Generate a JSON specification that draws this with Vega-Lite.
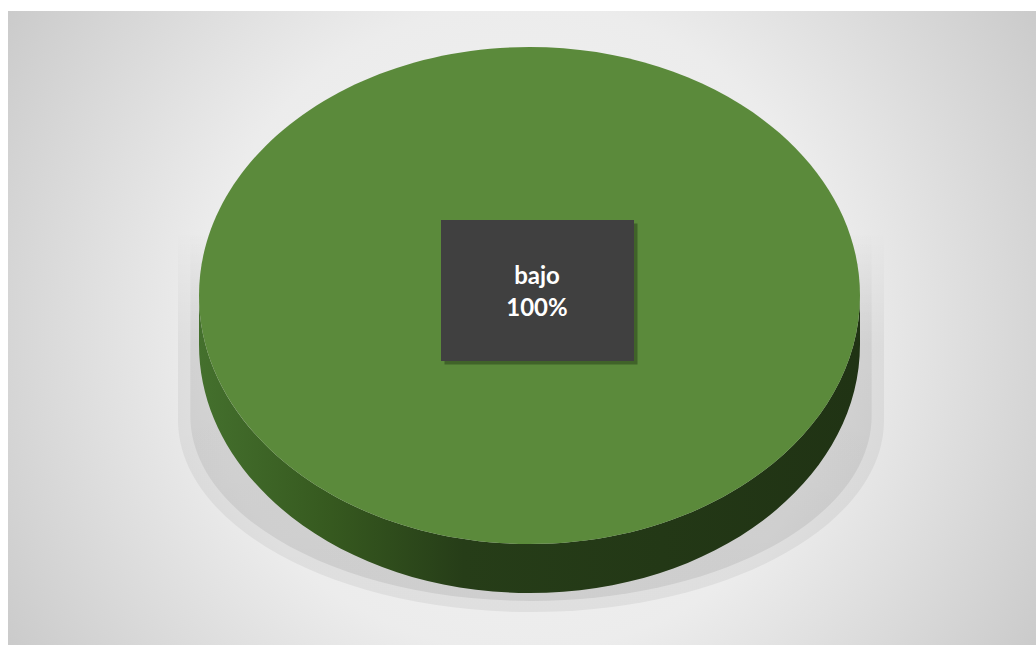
{
  "$schema": "https://vega.github.io/schema/vega-lite/v6.json",
  "autosize": {"type": "fit", "contains": "padding"},
  "width": 1036,
  "height": 645,
  "padding": {"left": 8, "top": 11, "right": 0, "bottom": 0},
  "background": "#ffffff",
  "config": {"view": {"stroke": null}},
  "data": {"values": [{"category": "bajo", "share": 1}]},
  "layer": [
    {
      "mark": {
        "type": "rect",
        "fill": {"gradient": "radial", "x1": 0.5, "y1": 0.5, "x2": 0.5, "y2": 0.5, "r1": 0, "r2": 0.7,
          "stops": [{"offset": 0, "color": "#f4f4f4"}, {"offset": 0.45, "color": "#ececec"}, {"offset": 1, "color": "#bdbdbd"}]},
        "strokeWidth": 0
      },
      "encoding": {}
    },
    {
      "mark": {
        "type": "point", "filled": true, "opacity": 1, "strokeWidth": 0,
        "shape": "M -1 -0.1856 L -1 0.3527 A 1 0.544 0 0 0 1 0.3527 L 1 -0.1856 Z",
        "size": 498436, "xOffset": 9, "yOffset": -32.5,
        "fill": {"gradient": "linear", "x1": 0, "y1": 0, "x2": 0, "y2": 1,
          "stops": [{"offset": 0, "color": "rgba(0,0,0,0)"}, {"offset": 0.3, "color": "rgba(0,0,0,0.05)"}, {"offset": 1, "color": "rgba(0,0,0,0.06)"}]}
      },
      "encoding": {}
    },
    {
      "mark": {
        "type": "point", "filled": true, "opacity": 1, "strokeWidth": 0,
        "shape": "M -1 -0.1856 L -1 0.3527 A 1 0.544 0 0 0 1 0.3527 L 1 -0.1856 Z",
        "size": 464170, "xOffset": 9, "yOffset": -32.5,
        "fill": {"gradient": "linear", "x1": 0, "y1": 0, "x2": 0, "y2": 1,
          "stops": [{"offset": 0, "color": "rgba(0,0,0,0)"}, {"offset": 0.3, "color": "rgba(0,0,0,0.06)"}, {"offset": 1, "color": "rgba(0,0,0,0.08)"}]}
      },
      "encoding": {}
    },
    {
      "mark": {
        "type": "point", "filled": true, "opacity": 1, "strokeWidth": 0,
        "shape": "M -1 0 L -1 0.1483 A 1 0.7519 0 0 0 1 0.1483 L 1 0 A 1 0.7519 0 0 1 -1 0 Z",
        "size": 436921, "xOffset": 7.5, "yOffset": -32.5,
        "fill": {"gradient": "linear", "x1": 0, "y1": 0, "x2": 1, "y2": 0,
          "stops": [{"offset": 0, "color": "#44702d"}, {"offset": 0.2, "color": "#36591f"}, {"offset": 0.4, "color": "#263d18"}, {"offset": 1, "color": "#203314"}]}
      },
      "encoding": {}
    },
    {
      "mark": {
        "type": "point", "filled": true, "opacity": 1, "strokeWidth": 0,
        "shape": "M -1 0 A 1 0.7519 0 1 0 1 0 A 1 0.7519 0 1 0 -1 0 Z",
        "size": 436921, "xOffset": 7.5, "yOffset": -32.5,
        "fill": "#5b8a3b"
      },
      "encoding": {}
    },
    {
      "mark": {
        "type": "point", "filled": true, "opacity": 0.6, "strokeWidth": 0,
        "shape": "M -1 -0.7306 L 1 -0.7306 L 1 0.7306 L -1 0.7306 Z",
        "size": 37249, "xOffset": 19, "yOffset": -34,
        "fill": "#2f4a1e"
      },
      "encoding": {}
    },
    {
      "mark": {
        "type": "point", "filled": true, "opacity": 1, "strokeWidth": 0,
        "shape": "M -1 -0.7306 L 1 -0.7306 L 1 0.7306 L -1 0.7306 Z",
        "size": 37249, "xOffset": 15.5, "yOffset": -37.5,
        "fill": "#404040"
      },
      "encoding": {}
    },
    {
      "mark": {"type": "text", "font": "Lato", "fontWeight": "bold", "fontSize": 24, "color": "#ffffff",
        "align": "center", "baseline": "middle", "xOffset": 15, "yOffset": -51},
      "encoding": {"text": {"field": "category", "type": "nominal"}}
    },
    {
      "mark": {"type": "text", "font": "Lato", "fontWeight": "bold", "fontSize": 24, "color": "#ffffff",
        "align": "center", "baseline": "middle", "xOffset": 15, "yOffset": -19},
      "encoding": {"text": {"field": "share", "type": "quantitative", "format": ".0%"}}
    }
  ]
}
